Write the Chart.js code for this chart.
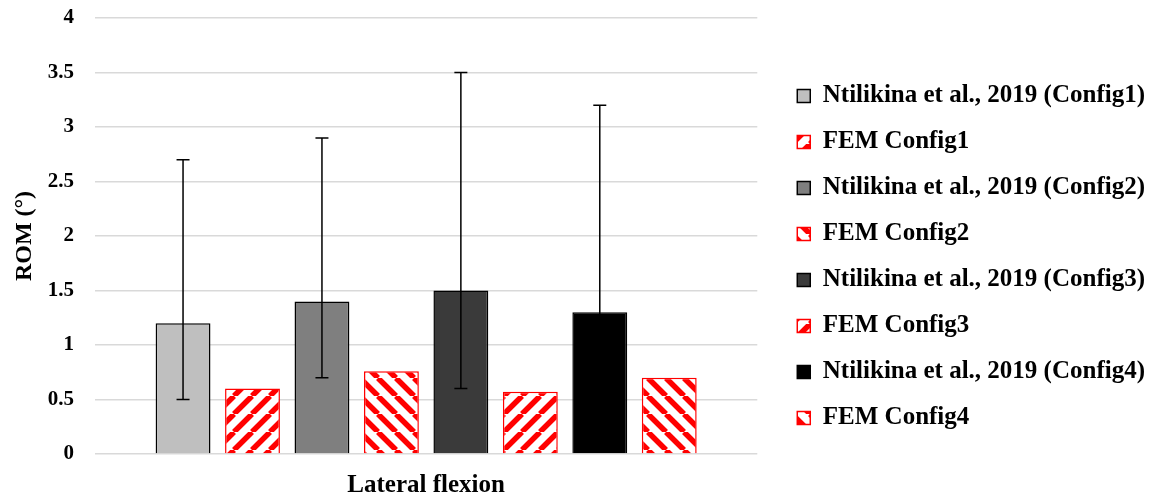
<!DOCTYPE html>
<html>
<head>
<meta charset="utf-8">
<script src="https://cdn.jsdelivr.net/npm/chart.js@4/dist/chart.umd.min.js"></script>
<style>
  html, body { margin: 0; padding: 0; background: #fff; }
  #wrap { width: 1161px; height: 500px; }
</style>
</head>
<body>
<div id="wrap"><canvas id="romChart" width="1161" height="500"></canvas></div>
<script>
// données
const categories = ['Lateral flexion'];
const seriesNames = [
  'Ntilikina et al., 2019 (Config1)',
  'FEM Config1',
  'Ntilikina et al., 2019 (Config2)',
  'FEM Config2',
  'Ntilikina et al., 2019 (Config3)',
  'FEM Config3',
  'Ntilikina et al., 2019 (Config4)',
  'FEM Config4'
];
const romValues = [1.2, 0.6, 1.4, 0.76, 1.5, 0.57, 1.3, 0.7];
const errLow = [0.5, null, 0.7, null, 0.6, null, 0.5, null];
const errHigh = [2.7, null, 2.9, null, 3.5, null, 3.2, null];
const yTicks = [0, 0.5, 1, 1.5, 2, 2.5, 3, 3.5, 4];

const serif = '"Liberation Serif", "DejaVu Serif", serif';
const greyFills = ['#bfbfbf', '#7f7f7f', '#3a3a3a', '#000000'];

// motif hachuré rouge/blanc, dir = 1 -> "/", dir = -1 -> "\"
function stripes(dir) {
  const s = 18;
  const c = document.createElement('canvas');
  c.width = s; c.height = s;
  const g = c.getContext('2d');
  g.fillStyle = '#fff';
  g.fillRect(0, 0, s, s);
  g.strokeStyle = '#ff0000';
  g.lineWidth = 5.5;
  g.beginPath();
  for (let k = -1; k <= 1; k++) {
    if (dir > 0) {
      g.moveTo(k * s, s); g.lineTo(k * s + s, 0);
    } else {
      g.moveTo(k * s, 0); g.lineTo(k * s + s, s);
    }
  }
  g.stroke();
  return g.createPattern(c, 'repeat');
}

const ctx = document.getElementById('romChart').getContext('2d');

const datasets = seriesNames.map((name, i) => {
  const isFem = i % 2 === 1;
  const cfg = Math.floor(i / 2);
  return {
    label: name,
    data: [romValues[i]],
    backgroundColor: isFem ? stripes(cfg % 2 === 0 ? 1 : -1) : greyFills[cfg],
    borderColor: isFem ? '#ff0000' : '#000000',
    borderWidth: 1.5,
    errLow: errLow[i],
    errHigh: errHigh[i],
    barPercentage: 0.79,
    categoryPercentage: 0.839
  };
});

// barres d'erreur
const errorBars = {
  id: 'errorBars',
  afterDatasetsDraw(chart) {
    const y = chart.scales.y;
    const c = chart.ctx;
    c.save();
    c.strokeStyle = '#000';
    c.lineWidth = 1.5;
    chart.data.datasets.forEach((ds, i) => {
      if (ds.errHigh == null) return;
      const bar = chart.getDatasetMeta(i).data[0];
      const x = bar.x;
      const yl = y.getPixelForValue(ds.errLow);
      const yh = y.getPixelForValue(ds.errHigh);
      c.beginPath();
      c.moveTo(x, yl); c.lineTo(x, yh);
      c.moveTo(x - 6.5, yl); c.lineTo(x + 6.5, yl);
      c.moveTo(x - 6.5, yh); c.lineTo(x + 6.5, yh);
      c.stroke();
    });
    c.restore();
  }
};

// petit décalage vertical de la légende
const legendShift = {
  id: 'legendShift',
  afterLayout(chart) {
    if (chart.legend) {
      chart.legend.top -= 2;
      chart.legend.bottom -= 2;
    }
  }
};

new Chart(ctx, {
  type: 'bar',
  data: { labels: categories, datasets: datasets },
  plugins: [errorBars, legendShift],
  options: {
    responsive: false,
    animation: false,
    layout: { padding: { top: 18, left: 0, right: 6, bottom: 0 } },
    scales: {
      x: {
        grid: { display: false, drawTicks: false },
        border: { display: false },
        ticks: {
          color: '#000',
          font: { family: serif, size: 25, weight: 'bold' },
          padding: 17
        },
        afterFit: s => { s.height = 46; }
      },
      y: {
        min: 0,
        max: 4,
        afterBuildTicks: axis => { axis.ticks = yTicks.map(v => ({ value: v })); },
        grid: { color: '#d9d9d9', lineWidth: 1.5, drawTicks: false },
        border: { display: false },
        ticks: {
          color: '#000',
          font: { family: serif, size: 21, weight: 'bold' },
          padding: 21,
          callback: v => String(v)
        },
        title: {
          display: true,
          text: 'ROM (°)',
          color: '#000',
          font: { family: serif, size: 24, weight: 'bold' },
          padding: { top: 10, bottom: 0 }
        },
        afterFit: s => {
          s.width = 95;
          s.paddingTop = 0;
          s.paddingBottom = 0;
        }
      },
      // axe vide : simple écart entre la zone de tracé et la légende
      gap: {
        type: 'linear',
        position: 'right',
        display: true,
        grid: { display: false, drawTicks: false },
        border: { display: false },
        ticks: { display: false },
        afterFit: s => {
          s.width = 19;
          s.paddingTop = 0;
          s.paddingBottom = 0;
        }
      }
    },
    plugins: {
      legend: {
        position: 'right',
        maxWidth: 385,
        labels: {
          color: '#000',
          font: { family: serif, size: 25, weight: 'bold' },
          boxWidth: 13,
          boxHeight: 13,
          padding: 21
        }
      },
      tooltip: { enabled: false }
    }
  }
});
</script>
</body>
</html>
